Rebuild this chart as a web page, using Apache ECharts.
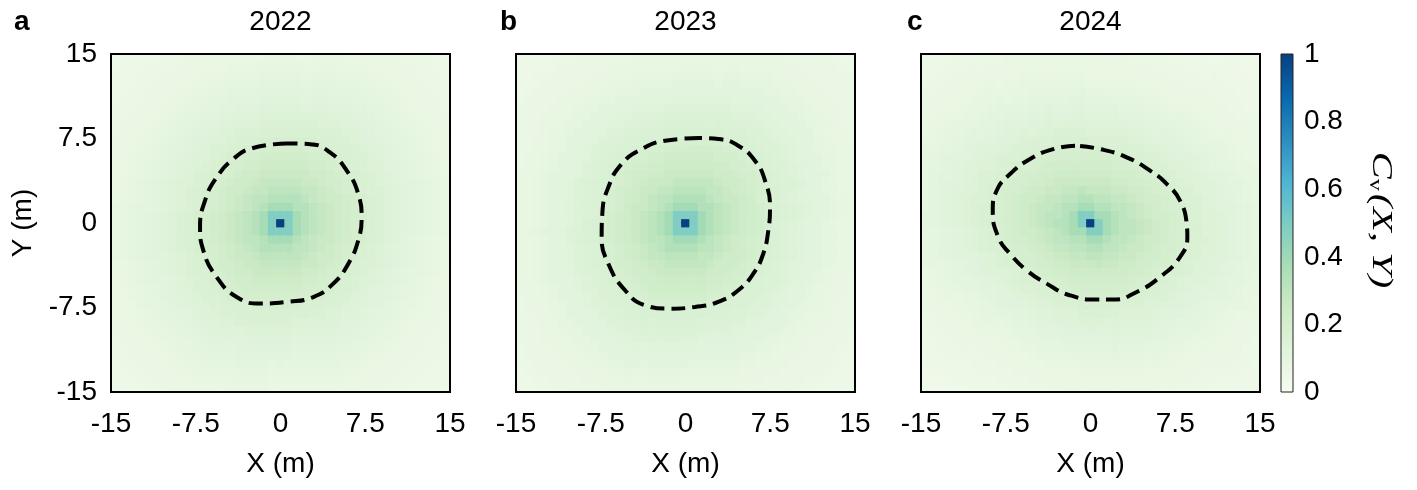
<!DOCTYPE html>
<html>
<head>
<meta charset="utf-8">
<script src="https://cdn.jsdelivr.net/npm/echarts@6/dist/echarts.min.js"></script>
<style>
  html, body { margin: 0; padding: 0; background: #fff; }
  #chart { width: 1417px; height: 490px; }
</style>
</head>
<body>
<div id="chart"></div>
<script>
// 面板
const years = ['2022', '2023', '2024'];
const letters = ['a', 'b', 'c'];
const axisTicks = [-15, -7.5, 0, 7.5, 15];
const colorbarTicks = [0, 0.2, 0.4, 0.6, 0.8, 1];
const nCells = 41;

// value per ring (in cells from the centre)
const profile2022 = [1.0, 0.48, 0.38, 0.33, 0.3, 0.275, 0.255, 0.235, 0.218, 0.2, 0.185, 0.17, 0.157, 0.145, 0.133, 0.122, 0.112, 0.103, 0.095, 0.088, 0.082, 0.076, 0.071, 0.066, 0.062, 0.058, 0.055, 0.052, 0.049, 0.046, 0.044, 0.042, 0.04, 0.038];
const profile2023 = [1.0, 0.49, 0.39, 0.34, 0.305, 0.28, 0.26, 0.24, 0.222, 0.204, 0.188, 0.173, 0.16, 0.148, 0.136, 0.125, 0.115, 0.106, 0.098, 0.09, 0.084, 0.078, 0.072, 0.067, 0.063, 0.059, 0.056, 0.053, 0.05, 0.047, 0.045, 0.043, 0.041, 0.039];
const profile2024 = [1.0, 0.48, 0.38, 0.33, 0.3, 0.275, 0.255, 0.235, 0.218, 0.2, 0.185, 0.17, 0.157, 0.145, 0.133, 0.122, 0.112, 0.103, 0.095, 0.088, 0.082, 0.076, 0.071, 0.066, 0.062, 0.058, 0.055, 0.052, 0.049, 0.046, 0.044, 0.042, 0.04, 0.038];

// dashed contour (m)
const contour2022 = [[0.55, 7.06], [-2.55, 6.62], [-4.18, 5.68], [-5.65, 4.05], [-6.68, 1.99], [-7.12, -0.37], [-6.83, -2.43], [-5.65, -4.8], [-3.88, -6.57], [-1.81, -7.15], [0.55, -7.0], [2.9, -6.57], [4.67, -5.38], [6.0, -3.61], [6.88, -1.55], [7.18, 0.51], [6.88, 2.58], [5.86, 4.65], [4.38, 6.27], [2.61, 7.0]];
const contour2023 = [[1.13, 7.54], [-1.81, 7.3], [-3.88, 6.56], [-5.65, 5.24], [-6.83, 3.17], [-7.36, 0.81], [-7.42, -1.25], [-6.83, -3.61], [-5.35, -5.97], [-3.58, -7.3], [-1.52, -7.6], [0.84, -7.45], [2.9, -7.0], [4.67, -5.97], [6.0, -4.5], [6.88, -2.73], [7.33, -0.66], [7.48, 1.4], [7.04, 3.76], [6.15, 5.53], [4.67, 6.86], [2.9, 7.45]];
const contour2024 = [[-1.37, 6.86], [-3.29, 6.56], [-5.35, 5.68], [-7.12, 4.35], [-8.3, 2.88], [-8.65, 1.11], [-8.16, -1.25], [-7.12, -2.73], [-5.65, -4.2], [-3.88, -5.38], [-1.81, -6.42], [0.55, -6.8], [2.02, -6.8], [4.09, -6.12], [6.15, -4.8], [7.92, -3.02], [8.57, -1.25], [8.51, -0.07], [7.92, 1.99], [6.74, 3.47], [5.27, 4.65], [3.2, 5.83], [0.84, 6.56]];

const profiles = [profile2022, profile2023, profile2024];
const contours = [contour2022, contour2023, contour2024];

// GnBu
const gnbu = ['#f7fcf0', '#e0f3db', '#ccebc5', '#a8ddb5', '#7bccc4', '#4eb3d3', '#2b8cbe', '#0868ac', '#084081'];

const sans = 'Liberation Sans, Arial, Helvetica, sans-serif';
const serif = 'Liberation Serif, Times New Roman, serif';
const panelLeft = [111, 516, 921];
const letterX = [14, 500, 907];
const gridTop = 54, gridW = 339, gridH = 338;

const cellIdx = [];
for (let i = 0; i < nCells; i++) cellIdx.push(String(i));

// ring lookup, scaled by the contour radius in that direction
function buildCells(profile, contour) {
  const cell = (axisTicks[axisTicks.length - 1] - axisTicks[0]) / nCells;
  const mid = (nCells - 1) / 2;
  const radii = contour.map(p => Math.hypot(p[0], p[1]));
  const angles = contour.map(p => Math.atan2(p[1], p[0]));
  const rMean = radii.reduce((a, b) => a + b, 0) / radii.length;
  const out = [];
  for (let i = 0; i < nCells; i++) {
    for (let j = 0; j < nCells; j++) {
      const x = (i - mid) * cell, y = (j - mid) * cell;
      const r = Math.hypot(x, y);
      let ring = 0;
      if (r > 0) {
        const a = Math.atan2(y, x);
        let best = 0, bd = 10;
        angles.forEach((t, k) => {
          let d = Math.abs(t - a);
          if (d > Math.PI) d = 2 * Math.PI - d;
          if (d < bd) { bd = d; best = k; }
        });
        ring = Math.round(r / cell * rMean / radii[best]);
      }
      out.push([i, j, profile[Math.min(ring, profile.length - 1)]]);
    }
  }
  return out;
}

const grid = [], xAxis = [], yAxis = [], series = [], graphic = [];
const tickStyle = { color: '#000', width: 1.6 };
const labelStyle = { fontSize: 28, color: '#000', fontFamily: sans };

years.forEach((yr, k) => {
  const left = panelLeft[k];
  grid.push({ left: left, top: gridTop, width: gridW, height: gridH });
  grid.push({ left: left, top: gridTop, width: gridW, height: gridH, show: true, backgroundColor: 'transparent', borderColor: '#000', borderWidth: 2, z: 5 });

  xAxis.push({ type: 'category', gridIndex: 2 * k, data: cellIdx, show: false });
  yAxis.push({ type: 'category', gridIndex: 2 * k, data: cellIdx, show: false });

  xAxis.push({
    type: 'value', gridIndex: 2 * k + 1, min: axisTicks[0], max: axisTicks[axisTicks.length - 1], interval: 7.5,
    axisLine: { show: false }, splitLine: { show: false },
    axisTick: { length: 8, lineStyle: tickStyle },
    axisLabel: Object.assign({ margin: 18 }, labelStyle),
    name: 'X (m)', nameLocation: 'middle', nameGap: 58, nameTextStyle: labelStyle
  });
  yAxis.push({
    type: 'value', gridIndex: 2 * k + 1, min: axisTicks[0], max: axisTicks[axisTicks.length - 1], interval: 7.5,
    axisLine: { show: false }, splitLine: { show: false },
    axisTick: { length: 8, lineStyle: tickStyle },
    axisLabel: Object.assign({ margin: 14, show: k === 0 }, labelStyle),
    name: k === 0 ? 'Y (m)' : '', nameLocation: 'middle', nameGap: 74, nameTextStyle: labelStyle
  });

  series.push({
    type: 'heatmap', xAxisIndex: 2 * k, yAxisIndex: 2 * k,
    data: buildCells(profiles[k], contours[k]),
    emphasis: { disabled: true }, silent: true
  });
  series.push({
    type: 'line', xAxisIndex: 2 * k + 1, yAxisIndex: 2 * k + 1,
    data: contours[k].concat([contours[k][0]]),
    smooth: 0.5, symbol: 'none', silent: true, z: 4,
    lineStyle: { color: '#000', width: 4, type: [14, 7] }
  });

  graphic.push({ type: 'text', x: left + gridW / 2, y: 22, style: { text: yr, align: 'center', verticalAlign: 'middle', font: '28px ' + sans, fill: '#000' } });
  graphic.push({ type: 'text', x: letterX[k], y: 22, style: { text: letters[k], align: 'left', verticalAlign: 'middle', font: 'bold 28px ' + sans, fill: '#000' } });
});

// colorbar
grid.push({ left: 1281, top: gridTop, width: 12, height: gridH, show: true, backgroundColor: 'transparent', borderColor: '#222', borderWidth: 1, z: 5 });
xAxis.push({ type: 'category', gridIndex: 6, data: ['cb'], show: false });
yAxis.push({
  type: 'value', gridIndex: 6, position: 'right', min: colorbarTicks[0], max: colorbarTicks[colorbarTicks.length - 1], interval: 0.2,
  axisLine: { show: false }, splitLine: { show: false },
  axisTick: { length: 6, lineStyle: { color: '#000', width: 1.2 } },
  axisLabel: Object.assign({ margin: 11 }, labelStyle)
});
series.push({
  type: 'bar', xAxisIndex: 6, yAxisIndex: 6, data: [colorbarTicks[colorbarTicks.length - 1]],
  barWidth: '100%', silent: true,
  itemStyle: { color: new echarts.graphic.LinearGradient(0, 1, 0, 0, gnbu.map((c, i) => ({ offset: i / (gnbu.length - 1), color: c }))) }
});

graphic.push({
  type: 'text', x: 1381, y: 220, rotation: -Math.PI / 2, scaleX: 1.35,
  style: {
    text: '{c|C}{s|v}{p|(X, Y)}', align: 'center', verticalAlign: 'middle', fill: '#000',
    rich: {
      c: { fontSize: 30, fontStyle: 'italic', fontFamily: serif },
      s: { fontSize: 18, fontFamily: serif, verticalAlign: 'bottom', padding: [0, 2, 0, 0] },
      p: { fontSize: 30, fontStyle: 'italic', fontFamily: serif }
    }
  }
});

const chart = echarts.init(document.getElementById('chart'));
chart.setOption({
  animation: false,
  backgroundColor: '#fff',
  grid: grid, xAxis: xAxis, yAxis: yAxis,
  visualMap: { type: 'continuous', show: false, min: 0, max: 1, seriesIndex: [0, 2, 4], inRange: { color: gnbu } },
  series: series,
  graphic: graphic
});
</script>
</body>
</html>
